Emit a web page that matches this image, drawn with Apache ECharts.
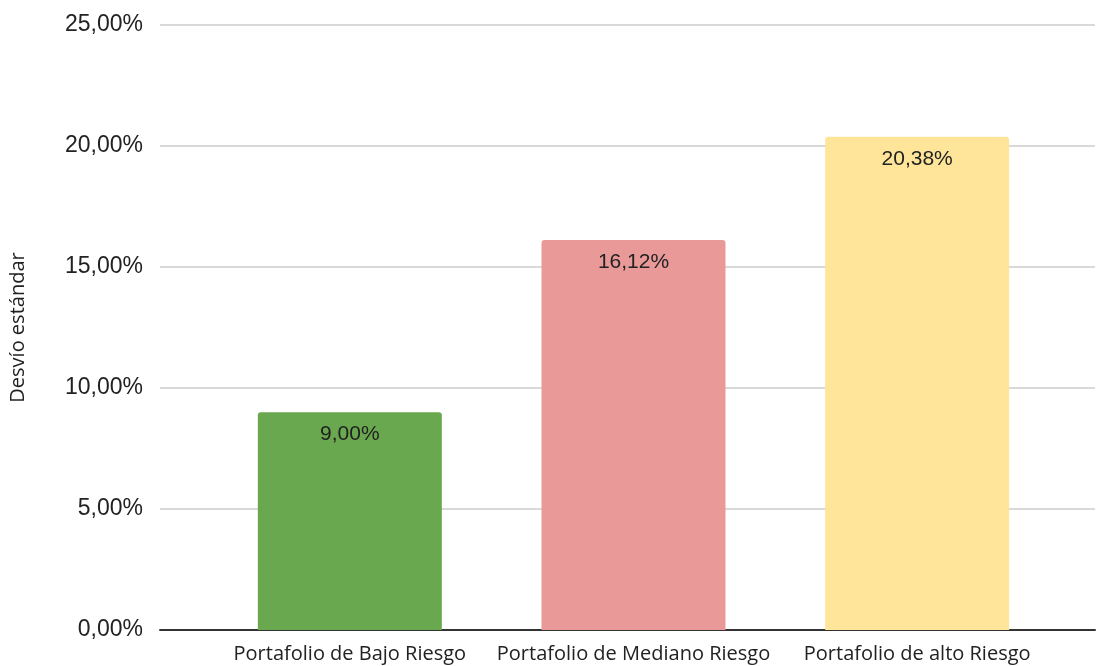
<!DOCTYPE html>
<html>
<head>
<meta charset="utf-8">
<script src="https://cdn.jsdelivr.net/npm/echarts@6/dist/echarts.min.js"></script>
<style>
  html, body { margin: 0; padding: 0; background: #fff; }
  #myChart { width: 1097px; height: 666px; }
</style>
</head>
<body>
<div id="myChart"></div>
<script>
var categories = ['Portafolio de Bajo Riesgo', 'Portafolio de Mediano Riesgo', 'Portafolio de alto Riesgo'];
var desvio = [9.00, 16.12, 20.38];
var barColors = ['#6aa84f', '#ea9999', '#ffe599'];
var yTicks = [0, 5, 10, 15, 20, 25];

function pct(v) {
    return v.toFixed(2).replace('.', ',') + '%';
}

var myChart = echarts.init(document.getElementById('myChart'));

var option = {
    backgroundColor: '#fff',
    animation: false,
    // grid 0 only carries the gridlines, y labels and base line (full width)
    // grid 1 holds the bars, narrower like the original
    grid: [
        { left: 160, right: 2, top: 25, bottom: 36 },
        { left: 208, right: 38, top: 25, bottom: 36 }
    ],
    xAxis: [{
        gridIndex: 0,
        type: 'category',
        data: [''],
        axisLine: { lineStyle: { color: '#333', width: 2 } },
        axisTick: { show: false },
        axisLabel: { show: false }
    }, {
        gridIndex: 1,
        type: 'category',
        data: categories,
        axisLine: { show: false },
        axisTick: { show: false },
        axisLabel: {
            interval: 0,
            margin: 14,
            fontFamily: 'Open Sans',
            fontSize: 20,
            color: '#222'
        }
    }],
    yAxis: [{
        gridIndex: 0,
        type: 'value',
        min: yTicks[0],
        max: yTicks[yTicks.length - 1],
        interval: 5,
        name: 'Desvío estándar',
        nameLocation: 'middle',
        nameGap: 132,
        nameTextStyle: { fontFamily: 'Open Sans', fontSize: 20, color: '#222' },
        axisLine: { show: false },
        axisTick: { show: false },
        splitLine: { lineStyle: { color: '#cccccc', width: 1.5 } },
        axisLabel: {
            margin: 17,
            fontFamily: 'Liberation Sans',
            fontSize: 23,
            color: '#222',
            formatter: pct
        }
    }, {
        gridIndex: 1,
        type: 'value',
        min: yTicks[0],
        max: yTicks[yTicks.length - 1],
        interval: 5,
        show: false,
        splitLine: { show: false }
    }],
    series: [{
        type: 'bar',
        xAxisIndex: 1,
        yAxisIndex: 1,
        barWidth: 184,
        data: desvio.map(function (v, i) {
            return { value: v, itemStyle: { color: barColors[i] } };
        }),
        itemStyle: { borderRadius: [3, 3, 0, 0] },
        label: {
            show: true,
            position: 'insideTop',
            distance: 12,
            fontFamily: 'Liberation Sans',
            fontSize: 21,
            color: '#222',
            formatter: function (p) { return pct(p.value); }
        }
    }]
};
myChart.setOption(option);
</script>
</body>
</html>
